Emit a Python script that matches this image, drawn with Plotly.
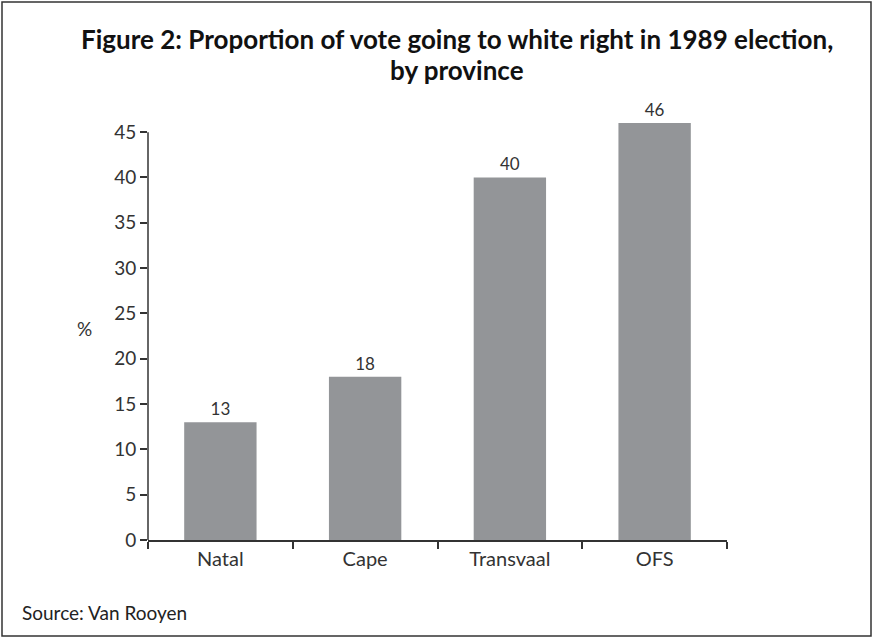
import plotly.graph_objects as go

categories = ["Natal", "Cape", "Transvaal", "OFS"]
values = [13, 18, 40, 46]
y_ticks = [0, 5, 10, 15, 20, 25, 30, 35, 40, 45]

W, H = 873, 638
ML, MR, MT, MB = 148, 146, 114, 98
PW = W - ML - MR
PH = H - MT - MB

def px(xp):
    return (xp - ML) / PW

def py(yp):
    return (H - MB - yp) / PH

FONT = "Lato"
TXT = "#333333"

fig = go.Figure()
fig.add_trace(go.Bar(
    x=categories, y=values, width=0.5,
    marker=dict(color="#939598", line=dict(width=0)),
    text=[str(v) for v in values], textposition="outside",
    textfont=dict(family=FONT, size=17, color=TXT),
    cliponaxis=False,
))

fig.update_layout(
    width=W, height=H,
    margin=dict(l=ML, r=MR, t=MT, b=MB),
    paper_bgcolor="white", plot_bgcolor="white",
    showlegend=False,
    bargap=0.5,
    font=dict(family=FONT, color=TXT),
    xaxis=dict(
        type="category", range=[-0.5, 3.5],
        showline=True, linecolor="#333333", linewidth=1.5,
        ticks="outside", tickson="boundaries", ticklen=7, tickcolor="#333333", tickwidth=1.5,
        showgrid=False, zeroline=False,
        tickfont=dict(family=FONT, size=20, color=TXT),
    ),
    yaxis=dict(
        range=[0, 47], tickvals=y_ticks,
        showline=False, showgrid=False, zeroline=False,
        ticks="outside", ticklen=7, tickcolor="#333333", tickwidth=1.5,
        tickfont=dict(family=FONT, size=19, color=TXT),
    ),
    shapes=[
        dict(type="line", xref="paper", yref="y", x0=0, x1=0, y0=0, y1=y_ticks[-1],
             line=dict(color="#333333", width=1.5)),
        dict(type="rect", xref="paper", yref="paper",
             x0=px(2), x1=px(871), y0=py(2), y1=py(636),
             line=dict(color="#333333", width=1.5)),
    ],
    annotations=[
        dict(text="<b>Figure 2: Proportion of vote going to white right in 1989 election,</b>",
             xref="paper", yref="paper", x=px(457), y=py(39), showarrow=False,
             xanchor="center", yanchor="middle",
             font=dict(family=FONT, size=26, color="#111111")),
        dict(text="<b>by province</b>",
             xref="paper", yref="paper", x=px(457), y=py(70), showarrow=False,
             xanchor="center", yanchor="middle",
             font=dict(family=FONT, size=26, color="#111111")),
        dict(text="%", xref="paper", yref="paper", x=px(84), y=py(328), showarrow=False,
             xanchor="center", yanchor="middle",
             font=dict(family=FONT, size=19, color=TXT)),
        dict(text="Source: Van Rooyen", xref="paper", yref="paper", x=px(20), y=py(612),
             showarrow=False, xanchor="left", yanchor="middle",
             font=dict(family=FONT, size=19, color="#222222")),
    ],
)

fig.write_html("out.html")
